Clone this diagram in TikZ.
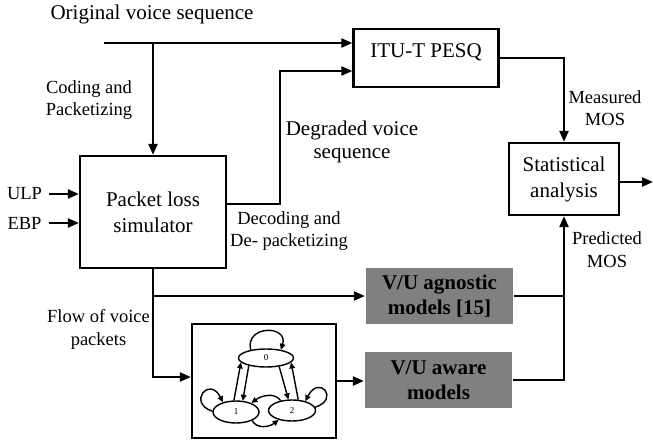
\documentclass[tikz,border=0pt]{standalone}
\usepackage{fontspec}
\setmainfont{Liberation Serif}
\usetikzlibrary{arrows.meta, positioning, calc, shapes.geometric}
\definecolor{modelGray}{RGB}{128,128,128}

\begin{document}
\begin{tikzpicture}[x=1pt, y=-1pt, line width=2.3pt,
    box/.style={draw, rectangle, inner sep=0pt, align=center, font=\fontsize{21}{26}\selectfont},
    model/.style={rectangle, fill=modelGray, inner sep=0pt, align=center, font=\fontsize{21}{25}\selectfont\bfseries},
    bigtxt/.style={inner sep=0pt, align=center, font=\fontsize{21}{23}\selectfont},
    smalltxt/.style={inner sep=0pt, align=center, font=\fontsize{18.5}{22.5}\selectfont},
    arr/.style={-{Triangle[length=11pt, width=9pt]}},
    state/.style={draw, ellipse, line width=1.4pt, inner sep=0pt, font=\fontsize{9}{10}\selectfont},
    trans/.style={line width=1.4pt, -{Triangle[length=6pt, width=5.5pt]}}]
  \useasboundingbox (0,0) rectangle (653,441);
  % Blocks
  \node[box, align=none, minimum width=145, minimum height=58, text height=10pt, text depth=10pt] (itu) at (426,58) {ITU-T PESQ};
  \node[box, minimum width=146, minimum height=112] (pls) at (153,212) {Packet loss\\simulator};
  \node[box, minimum width=110, minimum height=72] (stat) at (564,179) {Statistical\\analysis};
  \node[model, minimum width=147, minimum height=56] (agn) at (439.5,296) {V/U agnostic\\models [15]};
  \node[model, minimum width=147, minimum height=56] (aware) at (438.5,380) {V/U aware\\models};
  \node[draw, rectangle, minimum width=144, minimum height=114] (markov) at (264,381) {};
  % Labels
  \node[bigtxt] (orig) at (152,14) {Original voice sequence};
  \node[smalltxt] (coding) at (89,100) {Coding and\\Packetizing};
  \node[bigtxt] (degr) at (352,142) {Degraded voice\\sequence};
  \node[smalltxt] (decod) at (289,231) {Decoding and\\De- packetizing};
  \node[smalltxt] (flow) at (98.5,329.5) {Flow of voice\\packets};
  \node[smalltxt] (meas) at (605,108) {Measured\\MOS};
  \node[smalltxt] (pred) at (607,249.5) {Predicted\\MOS};
  \node[smalltxt] (ulp) at (24.5,194) {ULP};
  \node[smalltxt] (ebp) at (24.5,223) {EBP};
  % Connectors
  \coordinate (src) at (104,43);
  \coordinate (deg) at (280,71);
  \coordinate (out) at (653,182);
  \draw[arr] (src) -- (src -| itu.west);
  \draw[arr] (src -| pls.north) -- (pls.north);
  \draw[arr] ([xshift=6pt]ulp.east) -- (ulp.east -| pls.west);
  \draw[arr] ([xshift=6pt]ebp.east) -- (ebp.east -| pls.west);
  \draw[arr] ([yshift=8pt]pls.east) -| (deg) -- (deg -| itu.west);
  \draw[arr] (itu.east) -| (stat.north);
  \draw[arr] ([yshift=-3pt]stat.east) -- (out);
  \draw[arr] (pls.south) |- (agn.west);
  \draw[arr] (pls.south) |- ([yshift=4pt]markov.west);
  \draw[arr] (markov.east) -- (markov.east -| aware.west);
  \draw[arr] (agn.east) -| (stat.south);
  \draw (aware.east) -| (agn.east -| stat.south);
  % Three-state chain
  \node[state, minimum width=55, minimum height=18] (s0) at (266,358) {0};
  \node[state, minimum width=46, minimum height=22] (s1) at (236,412) {1};
  \node[state, minimum width=47, minimum height=21] (s2) at (292,410.5) {2};
  \draw[trans] (s1.100) -- (s0.190);
  \draw[trans] (s0.204) -- (s1.59);
  \draw[trans] (s0.327) -- (s2.108);
  \draw[trans] (s2.60) -- (s0.350);
  \draw[trans] (s0.152) .. controls +(-6,-25) and +(8,-25) .. (s0.29);
  \draw[trans] (s1.178) .. controls +(-25,-8) and +(-14,-27) .. (s1.143);
  \draw[trans] (s2.8) .. controls +(25,-8) and +(14,-27) .. (s2.35);
  \draw[trans] (s2.139) .. controls +(-6,-9) and +(9,-7) .. (s1.30);
  \draw[trans] (s1.332) .. controls +(5,9) and +(-9,7) .. (s2.215);
\end{tikzpicture}
\end{document}
